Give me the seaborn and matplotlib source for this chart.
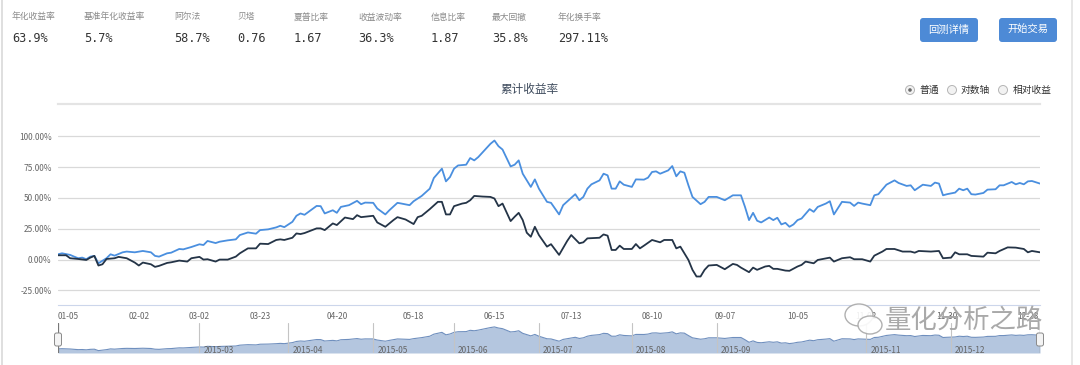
import numpy as np
import pandas as pd
import matplotlib
matplotlib.use('Agg')
import matplotlib.pyplot as plt
from matplotlib.lines import Line2D
from matplotlib.patches import FancyBboxPatch, Circle, Ellipse
import seaborn as sns

# ---- data (2015, cumulative return in %) ----
holidays = ['2015-01-01', '2015-01-02', '2015-02-18', '2015-02-19', '2015-02-20',
            '2015-02-23', '2015-02-24', '2015-04-06', '2015-05-01', '2015-06-22',
            '2015-09-03', '2015-09-04', '2015-10-01', '2015-10-02', '2015-10-05',
            '2015-10-06', '2015-10-07']

strategy_dates = ['01-05', '01-06', '01-08', '01-09', '01-12', '01-13', '01-14', '01-15', '01-16', '01-19',
                  '01-21', '01-22', '01-23', '01-27', '01-28', '01-30', '02-03', '02-05', '02-06', '02-09',
                  '02-11', '02-12', '02-16', '02-17', '02-26', '03-02', '03-03', '03-04', '03-06', '03-09',
                  '03-11', '03-13', '03-16', '03-18', '03-20', '03-23', '03-25', '03-27', '03-30', '03-31',
                  '04-02', '04-03', '04-07', '04-08', '04-13', '04-14', '04-15', '04-17', '04-20', '04-21',
                  '04-23', '04-27', '04-28', '04-29', '05-04', '05-05', '05-07', '05-08', '05-12', '05-13',
                  '05-15', '05-18', '05-20', '05-22', '05-25', '05-27', '05-28', '05-29', '06-01', '06-02',
                  '06-04', '06-05', '06-08', '06-09', '06-11', '06-12', '06-15', '06-16', '06-17', '06-19',
                  '06-23', '06-24', '06-25', '06-29', '06-30', '07-01', '07-03', '07-06', '07-08', '07-09',
                  '07-13', '07-14', '07-15', '07-16', '07-17', '07-20', '07-22', '07-23', '07-24', '07-27',
                  '07-28', '07-29', '07-30', '08-03', '08-04', '08-06', '08-07', '08-10', '08-11', '08-12',
                  '08-14', '08-17', '08-18', '08-19', '08-20', '08-21', '08-24', '08-26', '08-27', '08-28',
                  '09-01', '09-07', '09-09', '09-11', '09-14', '09-15', '09-16', '09-17', '09-18', '09-22',
                  '09-23', '09-24', '09-25', '09-28', '09-29', '09-30', '10-08', '10-09', '10-13', '10-14',
                  '10-15', '10-19', '10-20', '10-21', '10-23', '10-27', '10-28', '10-29', '10-30', '11-03',
                  '11-04', '11-05', '11-09', '11-11', '11-12', '11-16', '11-17', '11-18', '11-20', '11-24',
                  '11-25', '11-26', '11-27', '11-30', '12-02', '12-03', '12-04', '12-07', '12-08', '12-09',
                  '12-11', '12-14', '12-16', '12-17', '12-18', '12-22', '12-23', '12-24', '12-25', '12-28',
                  '12-29', '12-31']
strategy_values = [4.3, 5.1, 3.8, 2.4, 1.1, 1.6, 0.3, 2.4, 3.0, -3.0,
                   1.1, 4.3, 3.2, 5.9, 6.5, 5.9, 7.0, 5.9, 3.0, 2.4,
                   5.1, 5.6, 8.6, 8.3, 10.2, 12.4, 11.8, 15.1, 13.4, 14.5,
                   15.6, 16.4, 19.9, 22.0, 21.0, 23.9, 24.5, 26.1, 27.4, 26.3,
                   30.6, 35.5, 37.4, 36.3, 43.5, 43.3, 37.4, 40.0, 37.9, 42.7,
                   44.1, 47.6, 44.9, 46.2, 46.0, 41.4, 36.6, 40.0, 46.0, 45.4,
                   44.1, 47.3, 51.6, 57.5, 66.1, 73.7, 63.4, 66.9, 73.7, 76.3,
                   76.9, 82.3, 80.4, 83.1, 90.3, 93.8, 96.5, 91.9, 89.2, 75.5,
                   76.9, 80.4, 69.6, 58.9, 65.0, 57.5, 46.8, 46.0, 36.6, 44.1,
                   50.0, 53.0, 48.1, 50.8, 57.5, 61.0, 64.2, 69.6, 68.3, 57.5,
                   57.5, 63.4, 60.7, 58.9, 65.0, 64.8, 66.4, 71.0, 71.5, 69.6,
                   72.3, 75.8, 67.5, 71.5, 70.4, 60.2, 50.8, 44.9, 46.8, 50.8,
                   50.8, 48.1, 52.1, 52.1, 42.7, 32.0, 37.9, 31.5, 30.1, 34.1,
                   32.0, 33.9, 28.5, 29.8, 26.6, 28.5, 32.0, 33.3, 40.9, 38.7,
                   42.7, 45.4, 47.3, 36.6, 46.8, 46.2, 43.5, 46.2, 45.4, 44.1,
                   52.1, 53.0, 60.7, 64.2, 62.1, 59.7, 60.2, 56.2, 60.7, 59.7,
                   62.4, 61.6, 52.1, 53.0, 54.3, 57.5, 56.2, 57.5, 53.0, 52.7,
                   54.0, 56.7, 57.0, 60.2, 60.2, 62.9, 61.0, 62.1, 61.0, 63.4,
                   63.7, 61.6]

bench_dates = ['01-05', '01-07', '01-08', '01-12', '01-14', '01-15', '01-16', '01-19', '01-20', '01-21',
               '01-23', '01-26', '01-28', '01-30', '02-02', '02-03', '02-05', '02-06', '02-09', '02-11',
               '02-12', '02-16', '02-25', '02-26', '03-02', '03-03', '03-04', '03-06', '03-09', '03-11',
               '03-13', '03-16', '03-18', '03-20', '03-23', '03-25', '03-27', '03-30', '03-31', '04-02',
               '04-03', '04-07', '04-08', '04-13', '04-14', '04-15', '04-17', '04-20', '04-22', '04-24',
               '04-27', '04-28', '05-04', '05-05', '05-07', '05-11', '05-12', '05-14', '05-18', '05-19',
               '05-20', '05-22', '05-26', '05-27', '05-28', '05-29', '06-01', '06-03', '06-04', '06-05',
               '06-08', '06-10', '06-12', '06-15', '06-16', '06-17', '06-19', '06-23', '06-24', '06-25',
               '06-26', '06-29', '06-30', '07-01', '07-03', '07-06', '07-08', '07-10', '07-13', '07-15',
               '07-16', '07-17', '07-22', '07-23', '07-24', '07-27', '07-28', '07-29', '07-30', '08-03',
               '08-04', '08-05', '08-06', '08-10', '08-12', '08-13', '08-17', '08-18', '08-19', '08-20',
               '08-21', '08-24', '08-25', '08-26', '08-27', '08-28', '09-01', '09-07', '09-09', '09-10',
               '09-11', '09-15', '09-16', '09-17', '09-21', '09-22', '09-23', '09-24', '09-28', '09-29',
               '10-08', '10-09', '10-12', '10-14', '10-15', '10-20', '10-21', '10-23', '10-27', '10-28',
               '10-30', '11-03', '11-04', '11-06', '11-09', '11-11', '11-13', '11-17', '11-18', '11-19',
               '11-24', '11-26', '11-27', '12-01', '12-02', '12-03', '12-07', '12-08', '12-11', '12-14',
               '12-16', '12-17', '12-21', '12-23', '12-25', '12-28', '12-29', '12-31']
bench_values = [3.5, 3.5, 1.1, 0.5, -0.3, 1.6, 3.0, -4.8, -3.8, 0.5,
                1.1, 2.2, 1.1, -2.4, -4.8, -2.4, -3.8, -5.9, -5.1, -2.7,
                -2.2, -0.8, -1.6, 1.1, 2.2, 0.0, 0.3, -1.6, 0.0, 0.0,
                2.4, 5.1, 9.1, 9.1, 12.9, 12.6, 15.9, 16.4, 15.9, 17.7,
                21.2, 20.7, 21.5, 25.3, 25.3, 23.9, 29.3, 28.0, 34.1, 32.8,
                36.0, 34.4, 35.5, 30.1, 26.6, 32.0, 34.4, 32.5, 28.8, 34.4,
                35.5, 40.9, 46.8, 46.8, 36.6, 36.6, 43.3, 45.4, 46.0, 48.1,
                51.6, 51.1, 50.8, 49.5, 43.3, 45.4, 31.2, 34.7, 37.9, 32.0,
                21.8, 18.5, 26.6, 19.9, 10.5, 12.5, 3.8, 15.1, 19.9, 13.2,
                14.0, 17.2, 17.7, 20.4, 19.4, 7.8, 7.8, 11.3, 8.6, 8.6,
                12.6, 9.1, 11.3, 15.9, 14.0, 15.9, 15.9, 9.1, 10.5, 5.1,
                -0.3, -8.3, -13.7, -13.7, -8.3, -4.8, -4.3, -7.8, -3.5, -4.3,
                -6.5, -10.2, -6.5, -8.3, -5.6, -5.1, -7.5, -7.5, -8.9, -9.1,
                -5.6, -4.3, -1.6, -3.0, -0.3, 1.6, -1.6, 1.1, 1.9, 0.3,
                0.3, -1.6, 3.2, 6.5, 8.6, 8.6, 6.5, 6.5, 5.6, 7.0,
                6.5, 7.0, 1.1, 1.6, 5.9, 4.3, 4.3, 3.0, 2.4, 5.6,
                5.1, 7.0, 9.9, 9.7, 8.6, 5.9, 7.0, 5.9]

tick_labels = ['01-05', '02-02', '03-02', '03-23', '04-20', '05-18', '06-15', '07-13',
               '08-10', '09-07', '10-05', '11-02', '11-30', '12-28']
month_labels = ['2015-03', '2015-04', '2015-05', '2015-06', '2015-07', '2015-08',
                '2015-09', '2015-11', '2015-12']

stat_names = ['年化收益率', '基准年化收益率', '阿尔法', '贝塔', '夏普比率', '收益波动率', '信息比率', '最大回撤', '年化换手率']
stat_values = ['63.9%', '5.7%', '58.7%', '0.76', '1.67', '36.3%', '1.87', '35.8%', '297.11%']
radio_labels = ['普通', '对数轴', '相对收益']
buttons = ['回测详情', '开始交易']

# ---- trading calendar -> ordinal x positions ----
cal = pd.bdate_range('2015-01-01', '2015-12-31')
cal = cal[~cal.isin(pd.to_datetime(holidays))]


def to_pos(dates):
    return cal.searchsorted(pd.to_datetime(['2015-' + d for d in dates]))


df = pd.concat([
    pd.DataFrame({'pos': to_pos(strategy_dates), 'ret': strategy_values, 'series': '策略'}),
    pd.DataFrame({'pos': to_pos(bench_dates), 'ret': bench_values, 'series': '基准'}),
])

sns.set_theme(style='white')
plt.rcParams['font.family'] = ['Noto Sans CJK SC', 'DejaVu Sans']

W, H = 1080, 365
fig = plt.figure(figsize=(W / 100, H / 100), dpi=100)


def fx(x):
    return x / W


def fy(y):
    return 1 - y / H


# page borders
fig.add_artist(Line2D([fx(1.5), fx(1.5)], [0, 1], color='#d9d9d9', lw=1.2))
fig.add_artist(Line2D([fx(1072), fx(1072)], [0, 1], color='#e3e3e3', lw=1.2))

# stats header
stat_x = [12, 84, 174, 237, 294, 358, 431, 492, 558]
for x, name, val in zip(stat_x, stat_names, stat_values):
    fig.text(fx(x), fy(17), name, fontsize=6.3, color='#8a8a8a', va='center', ha='left')
    fig.text(fx(x), fy(39), val, fontsize=8.6, color='#333333', va='center', ha='left',
             family='DejaVu Sans Mono')

# buttons
for (x0, x1), label in zip([(920, 978), (999, 1057)], buttons):
    fig.add_artist(FancyBboxPatch((x0 / 100, (H - 42) / 100), (x1 - x0) / 100, 0.24,
                                  boxstyle='round,pad=0,rounding_size=0.03',
                                  transform=fig.dpi_scale_trans, fc='#4d8ad6', ec='none'))
    fig.text(fx((x0 + x1) / 2), fy(30), label, fontsize=7.4, color='white', ha='center', va='center')

# title and radio row
fig.text(fx(529), fy(90), '累计收益率', fontsize=8.4, color='#3d4a5c', ha='center', va='center')
for i, (cx, tx, label) in enumerate(zip([910, 952, 1003], [920, 961, 1013], radio_labels)):
    fig.add_artist(Circle((cx / 100, (H - 90) / 100), 0.045, transform=fig.dpi_scale_trans,
                          fc='#f2f2f2', ec='#b5b5b5', lw=0.7))
    if i == 0:
        fig.add_artist(Circle((cx / 100, (H - 90) / 100), 0.018, transform=fig.dpi_scale_trans,
                              fc='#6a6a6a', ec='none'))
    fig.text(fx(tx), fy(90), label, fontsize=7, color='#333333', ha='left', va='center')

# ---- main chart ----
ax = fig.add_axes([fx(58), fy(305), fx(1040) - fx(58), fy(104) - fy(305)])
palette = {'策略': '#4a8fdf', '基准': '#243447'}
sns.lineplot(data=df, x='pos', y='ret', hue='series', palette=palette, linewidth=1.3,
             legend=False, ax=ax, sort=True)
ax.set_xlim(0, len(cal) - 1)
ax.set_ylim(-36.8, 126.1)
yt = [-25, 0, 25, 50, 75, 100]
ax.set_yticks(yt)
ax.set_yticklabels([f'{v:.2f}%' for v in yt], fontsize=6, color='#666666')
for v in yt:
    ax.axhline(v, color='#d9d9d9', lw=0.9, zorder=0)
tick_pos = cal.searchsorted(pd.to_datetime(['2015-' + d for d in tick_labels]))
ax.set_xticks(tick_pos)
ax.set_xticklabels(tick_labels, fontsize=6, color='#666666')
ax.get_xticklabels()[0].set_horizontalalignment('left')
ax.tick_params(axis='y', length=0, pad=4.5)
ax.tick_params(axis='x', length=3, color='#ccd6eb', pad=2, width=0.8)
ax.set_xlabel('')
ax.set_ylabel('')
for s in ['left', 'right']:
    ax.spines[s].set_visible(False)
ax.spines['top'].set_color('#e4e4e4')
ax.spines['top'].set_linewidth(1.6)
ax.spines['bottom'].set_color('#ccd6eb')
ax.spines['bottom'].set_linewidth(0.8)
ax.set_facecolor('none')

# ---- navigator ----
nav = fig.add_axes([fx(58), fy(353), fx(1040) - fx(58), fy(323) - fy(353)])
sp = to_pos(strategy_dates)
nav.fill_between(sp, strategy_values, -13, color='#b4c6df', lw=0)
sns.lineplot(x=sp, y=strategy_values, color='#6f8fbe', linewidth=0.8, ax=nav)
nav.set_xlim(0, len(cal) - 1)
nav.set_ylim(-13, 113)
nav.set_xticks([])
nav.set_yticks([])
for s in nav.spines.values():
    s.set_visible(False)
nav.set_facecolor('none')
month_pos = cal.searchsorted(pd.to_datetime([m + '-01' for m in month_labels]))
for p, m in zip(month_pos, month_labels):
    nav.axvline(p, color='#c4c4c4', lw=0.8)
    nav.text(p + 1, -3, m, fontsize=6, color='#666666', ha='left', va='center')
for p in [0, len(cal) - 1]:
    nav.axvline(p, color='#777777', lw=0.9)
    hx = fx(58) if p == 0 else fx(1040)
    fig.add_artist(FancyBboxPatch((hx * W / 100 - 0.035, (H - 346) / 100), 0.07, 0.13,
                                  boxstyle='round,pad=0,rounding_size=0.02',
                                  transform=fig.dpi_scale_trans, fc='#f4f4f4', ec='#8a8a8a', lw=0.7))

# watermark
for (cx, cy, w, h) in [(859, 315, 28, 22), (870, 325, 24, 18)]:
    fig.add_artist(Ellipse((cx / 100, (H - cy) / 100), w / 100, h / 100, transform=fig.dpi_scale_trans,
                           fc='white', ec='#a8a8a8', lw=1.0, alpha=0.9))
fig.text(fx(885), fy(320), '量化分析之路', fontsize=19, color='#a5a5a5', ha='left', va='center',
         alpha=0.95)

fig.savefig('out.png', dpi=100)
